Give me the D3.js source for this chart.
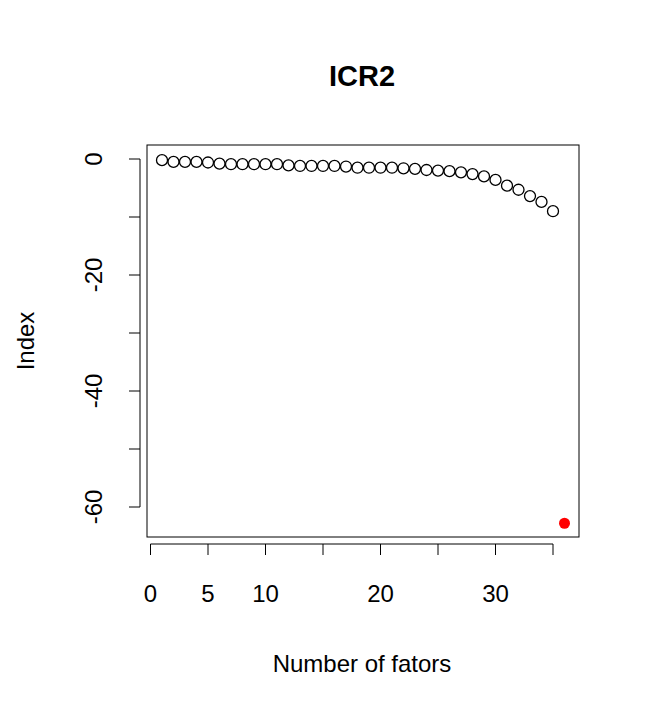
<!DOCTYPE html><html><head><script src="https://cdn.jsdelivr.net/npm/d3@7"></script>
<style>body{margin:0;background:#fff}</style></head><body><svg id="c" width="655" height="720"></svg>
<script>
const values=[-0.2,-0.5,-0.5,-0.5,-0.6,-0.8,-0.9,-0.9,-0.9,-0.9,-0.9,-1.1,-1.2,-1.2,-1.2,-1.2,-1.3,-1.5,-1.5,-1.5,-1.5,-1.6,-1.7,-1.9,-2.0,-2.1,-2.3,-2.6,-3.0,-3.6,-4.6,-5.3,-6.4,-7.4,-9.0];
const outlierValue=-62.8;
const xTicks=[0,5,10,15,20,25,30,35];
const xLabels=[0,5,10,20,30];
const yTicks=[0,-10,-20,-30,-40,-50,-60];
const yLabels=[0,-20,-40,-60];
const svg=d3.select("#c"),F="Liberation Sans, Arial, sans-serif";
const x=d3.scaleLinear().domain([0,35]).range([150.5,553]);
const y=d3.scaleLinear().domain([0,-60]).range([159,507]);
svg.append("rect").attr("x",147).attr("y",145).attr("width",432).attr("height",392).attr("fill","none").attr("stroke","#000");
svg.append("text").attr("x",362).attr("y",86).attr("text-anchor","middle").attr("font-family",F).attr("font-weight","bold").attr("font-size",29).text("ICR2");
const xa=svg.append("g").attr("transform","translate(0,537)");
xa.append("line").attr("x1",x(0)).attr("x2",x(35)).attr("y1",7).attr("y2",7).attr("stroke","#000");
xTicks.forEach(t=>xa.append("line").attr("x1",x(t)).attr("x2",x(t)).attr("y1",7).attr("y2",18).attr("stroke","#000"));
xLabels.forEach(t=>xa.append("text").attr("x",x(t)).attr("y",65).attr("text-anchor","middle").attr("font-family",F).attr("font-size",24).text(t));
const ya=svg.append("g");
ya.append("line").attr("x1",140).attr("x2",140).attr("y1",y(0)).attr("y2",y(-60)).attr("stroke","#000");
yTicks.forEach(t=>ya.append("line").attr("x1",129).attr("x2",140).attr("y1",y(t)).attr("y2",y(t)).attr("stroke","#000"));
yLabels.forEach(t=>ya.append("text").attr("transform",`translate(102,${y(t)}) rotate(-90)`).attr("text-anchor","middle").attr("font-family",F).attr("font-size",24).text(t));
svg.append("text").attr("x",362).attr("y",672).attr("text-anchor","middle").attr("font-family",F).attr("font-size",24).text("Number of fators");
svg.append("text").attr("transform","translate(34,341) rotate(-90)").attr("text-anchor","middle").attr("font-family",F).attr("font-size",24).text("Index");
svg.selectAll("circle.p").data(values).enter().append("circle").attr("cx",(d,i)=>x(i+1)).attr("cy",d=>y(d)).attr("r",5.5).attr("fill","none").attr("stroke","#000").attr("stroke-width",1.3);
svg.append("circle").attr("cx",x(36)).attr("cy",y(outlierValue)).attr("r",5.5).attr("fill","red");
</script></body></html>
